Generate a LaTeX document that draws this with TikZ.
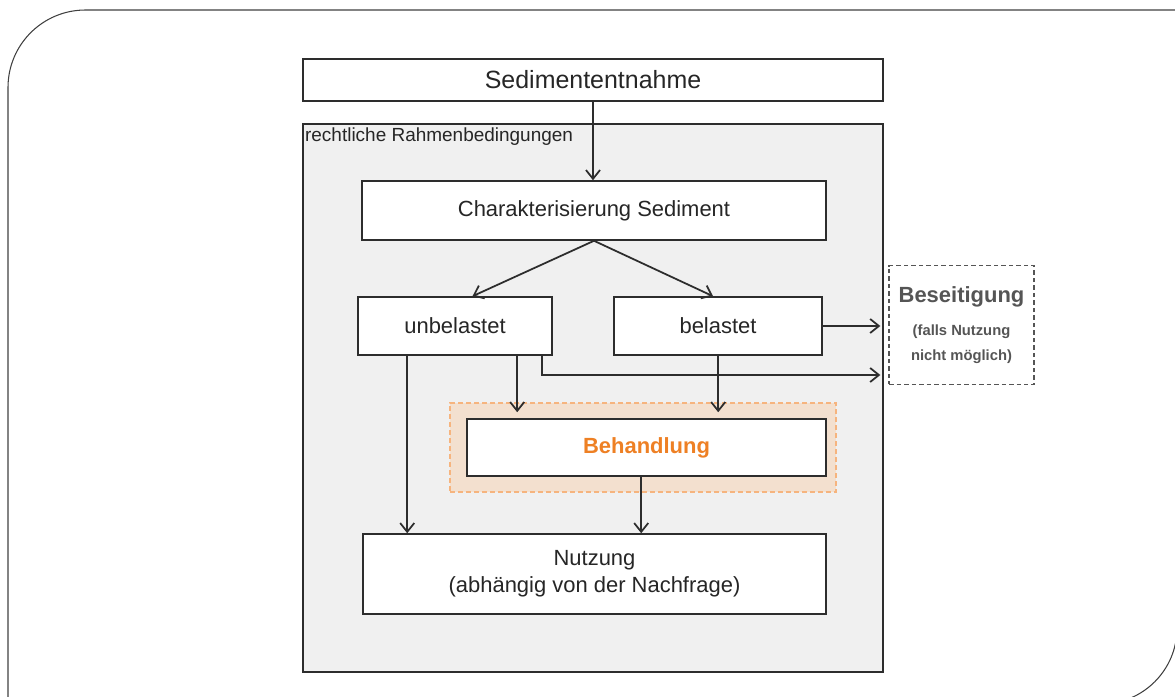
\documentclass[tikz,border=0pt]{standalone}
\usepackage{fontspec}
\setmainfont{Liberation Sans}
\usetikzlibrary{arrows.meta, positioning}
\definecolor{rahmengrau}{RGB}{240,240,240}
\definecolor{linie}{RGB}{45,45,45}
\definecolor{behorange}{RGB}{238,128,36}
\definecolor{behfill}{RGB}{243,224,207}
\definecolor{behrand}{RGB}{246,180,126}
\definecolor{besgrau}{RGB}{85,85,85}

\begin{document}
\begin{tikzpicture}[x=0.02cm, y=-0.02cm,
    box/.style={draw=linie, fill=white, line width=0.9pt, text=black!85,
        font=\fontsize{12.5}{15}\selectfont, inner sep=0pt, align=center},
    arr/.style={-{Straight Barb[length=5pt,width=8pt]}, line width=1pt, draw=linie},
    frame/.style={draw=black!75, line width=0.6pt}]
    \clip (0,0) rectangle (1175,696);

    % outer frame, two rounded corners
    \draw[frame, rounded corners=1.55cm] (8,720) -- (8,10) -- (1200,10);
    \draw[frame, rounded corners=1.52cm] (1177,-20) -- (1177,704) -- (1000,704);

    \node[box, minimum width=11.6cm, minimum height=0.84cm,
        font=\fontsize{14.2}{17}\selectfont] (entnahme) at (593,80) {Sedimententnahme};
    \node[draw=linie, fill=rahmengrau, line width=0.9pt,
        minimum width=11.6cm, minimum height=10.96cm] (rahmen) at (593,398) {};
    \node[anchor=north west, inner sep=0pt, text=black!85,
        font=\fontsize{10.8}{13}\selectfont] (rlabel) at ([xshift=0.05cm,yshift=-0.08cm]rahmen.north west)
        {rechtliche Rahmenbedingungen};

    \node[box, minimum width=9.28cm, minimum height=1.18cm] (charak) at (594,210.5) {Charakterisierung Sediment};
    \node[box, minimum width=3.88cm, minimum height=1.16cm] (unbel) at (455,326) {unbelastet};
    \node[box, minimum width=4.16cm, minimum height=1.16cm] (bel) at (718,326) {belastet};

    \node[draw=besgrau, dash pattern=on 0.09cm off 0.06cm, line width=0.8pt, fill=white,
        minimum width=2.9cm, minimum height=2.38cm, text=besgrau, align=center, inner sep=0pt,
        font=\fontsize{8.4}{14.2}\selectfont\bfseries]
        (besei) at (961.5,325)
        {{\fontsize{12.5}{15}\selectfont Beseitigung}\\[5pt]
         (falls Nutzung\\nicht möglich)};

    \node[draw=behrand, fill=behfill, dash pattern=on 0.1cm off 0.06cm, line width=0.9pt,
        minimum width=7.72cm, minimum height=1.78cm] (behbg) at (643,447.5) {};
    \node[box, minimum width=7.18cm, minimum height=1.14cm, text=behorange,
        font=\fontsize{12.5}{15}\selectfont\bfseries] (beh) at (646.5,447.5) {Behandlung};

    \node[box, minimum width=9.26cm, minimum height=1.6cm,
        font=\fontsize{12.5}{15.4}\selectfont] (nutz) at (594.5,574)
        {Nutzung\\(abhängig von der Nachfrage)};

    \coordinate (u1) at ([xshift=1.0cm]unbel.south west);
    \coordinate (u2) at ([xshift=3.2cm]unbel.south west);
    \coordinate (u3) at ([xshift=3.7cm]unbel.south west);
    \coordinate (b1) at ([xshift=2.1cm]bel.south west);
    \coordinate (h1) at ([xshift=3.5cm]beh.south west);

    \draw[arr] (entnahme.south) -- (entnahme.south |- charak.north);
    \draw[arr] (charak.south) -- ([xshift=0.35cm]unbel.north);
    \draw[arr] (charak.south) -- ([xshift=-0.1cm]bel.north);
    \draw[arr, shorten >=0.16cm] (bel.east) -- (bel.east -| besei.west);
    \draw[arr, shorten >=0.16cm] (u3) |- ([yshift=-1.0cm]besei.west);
    \draw[arr, shorten >=0.12cm] (u2) -- (u2 |- beh.north);
    \draw[arr, shorten >=0.12cm] (b1) -- (b1 |- beh.north);
    \draw[arr] (u1) -- (u1 |- nutz.north);
    \draw[arr] (h1) -- (h1 |- nutz.north);

\end{tikzpicture}
\end{document}
